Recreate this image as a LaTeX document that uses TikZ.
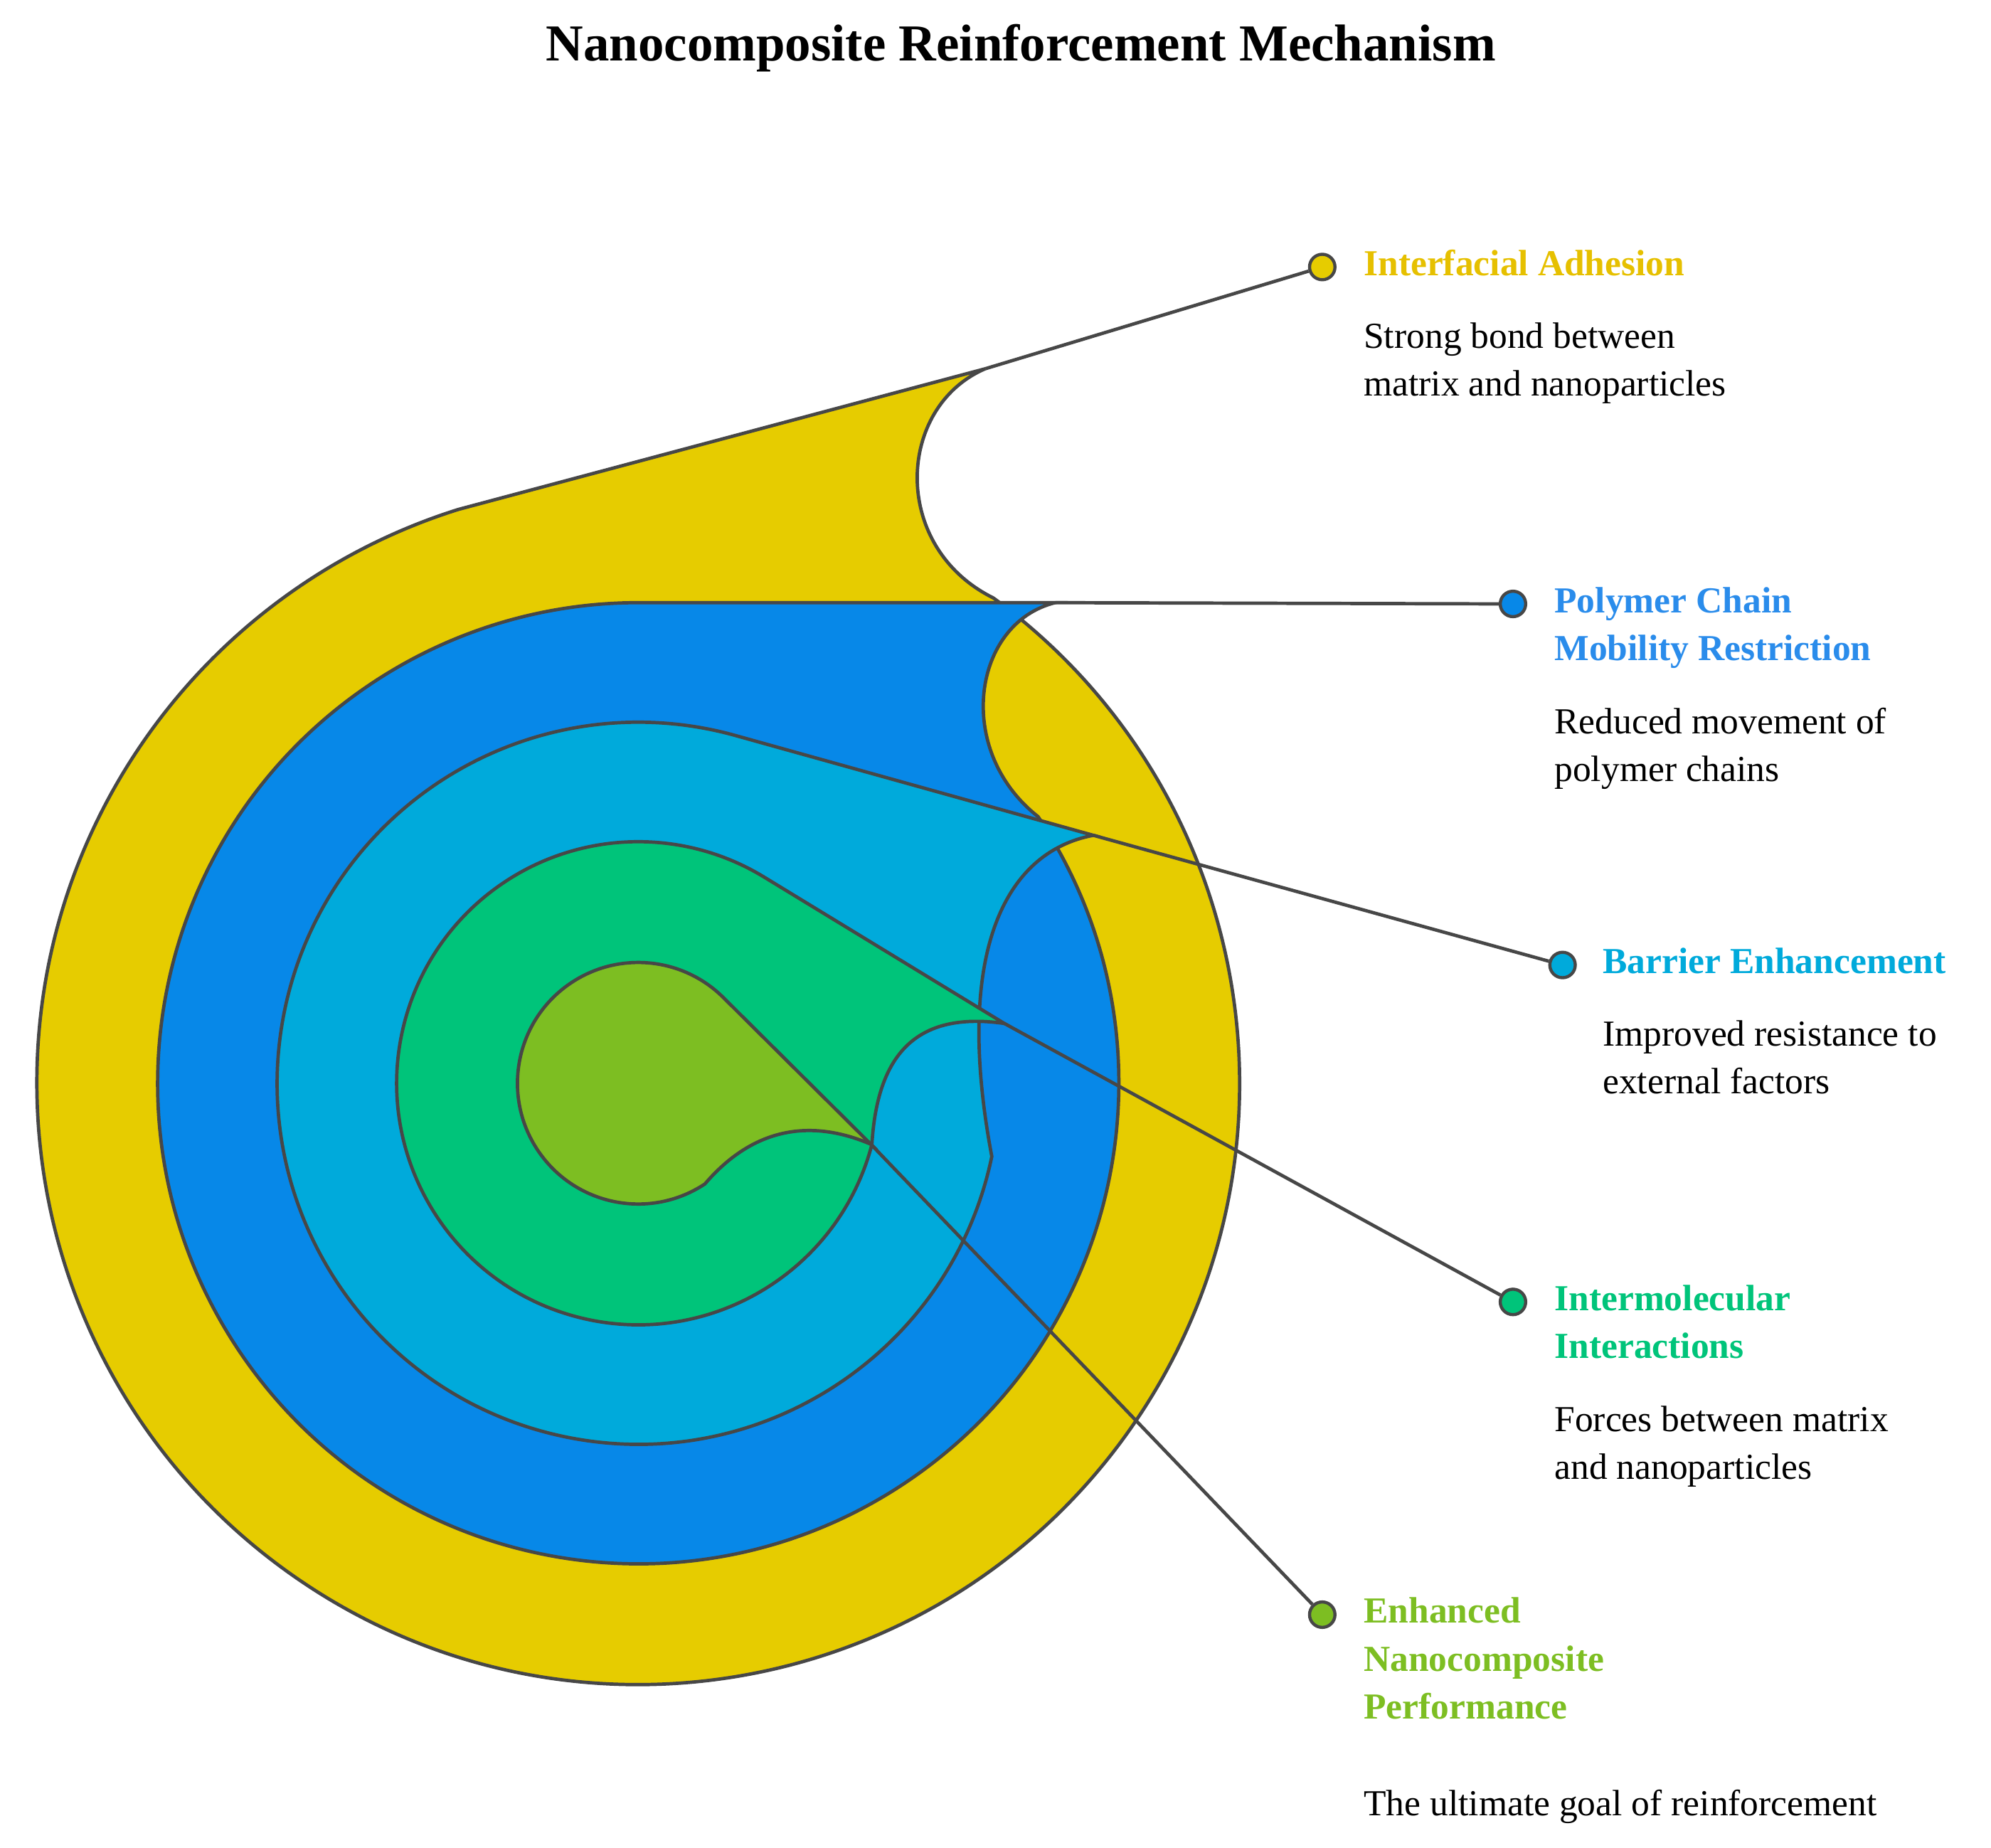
\documentclass[tikz,border=0pt]{standalone}
\usepackage{fontspec}
\setmainfont{Liberation Serif}
\begin{document}
\begin{tikzpicture}[x=0.01cm,y=-0.01cm,
  layer/.style={draw=black!72,line width=0.75pt},
  lead/.style={draw=black!72,line width=0.75pt},
  dot/.style={circle,draw=black!72,line width=0.7pt,minimum size=0.2cm,inner sep=0pt},
  ttl/.style={anchor=north west,inner sep=0pt,align=left,font=\bfseries\fontsize{8.2}{10.7}\selectfont},
  body/.style={anchor=north west,inner sep=0pt,align=left,font=\fontsize{8.2}{10.7}\selectfont}]
\definecolor{cy}{HTML}{E6CC00}
\definecolor{cb}{HTML}{0788E8}
\definecolor{cc}{HTML}{00AADB}
\definecolor{cg}{HTML}{00C47A}
\definecolor{cl}{HTML}{7DBE22}
\definecolor{ty}{HTML}{E6C000}
\definecolor{tb}{HTML}{2A8CEB}
\useasboundingbox (0,0) rectangle (1566,1453);
\node[font=\bfseries\fontsize{11.6}{14}\selectfont] (title) at (803,38) {Nanocomposite Reinforcement Mechanism};
% layers
\path[layer,fill=cy] ([shift={(502,852)}]-53.8:473) arc[start angle=-53.8,end angle=252.6,radius=473] -- (775,290) .. controls (705,320) and (700,430) .. cycle;
\path[layer,fill=cb] ([shift={(502,852)}]-33.7:378) arc[start angle=-33.7,end angle=270,radius=378] -- (830,474) .. controls (765,490) and (750,590) .. cycle;
\path[layer,fill=cc] ([shift={(502,852)}]11.7:284) arc[start angle=11.7,end angle=285.6,radius=284] -- (860,657) .. controls (790,670) and (750,750) .. cycle;
\path[layer,fill=cg] ([shift={(502,852)}]14.7:190) arc[start angle=14.7,end angle=301.3,radius=190] -- (790,805) .. controls (720,795) and (690,830) .. cycle;
\path[layer,fill=cl] ([shift={(502,852)}]56.5:95) arc[start angle=56.5,end angle=314.9,radius=95] -- (685,900) .. controls (650,885) and (600,878) .. cycle;
% tips
\coordinate (tY) at (775,290);
\coordinate (tB) at (830,474);
\coordinate (tC) at (860,657);
\coordinate (tG) at (790,805);
\coordinate (tL) at (685,900);
% dots
\node[dot,fill=cy] (dY) at (1040,210) {};
\node[dot,fill=cb] (dB) at (1190,475) {};
\node[dot,fill=cc] (dC) at (1229,759) {};
\node[dot,fill=cg] (dG) at (1190,1024) {};
\node[dot,fill=cl] (dL) at (1040,1270) {};
\draw[lead] (tY) -- (dY);
\draw[lead] (tB) -- (dB);
\draw[lead] (tC) -- (dC);
\draw[lead] (tG) -- (dG);
\draw[lead] (tL) -- (dL);
% labels
\node[ttl,text=ty] (lY) at (1072,196) {Interfacial Adhesion};
\node[body] (bY) at (1072,253) {Strong bond between\\matrix and nanoparticles};
\node[ttl,text=tb] (lB) at (1222,461) {Polymer Chain\\Mobility Restriction};
\node[body] (bB) at (1222,556) {Reduced movement of\\polymer chains};
\node[ttl,text=cc] (lC) at (1260,745) {Barrier Enhancement};
\node[body] (bC) at (1260,802) {Improved resistance to\\external factors};
\node[ttl,text=cg] (lG) at (1222,1010) {Intermolecular\\Interactions};
\node[body] (bG) at (1222,1105) {Forces between matrix\\and nanoparticles};
\node[ttl,text=cl] (lL) at (1072,1256) {Enhanced\\Nanocomposite\\Performance};
\node[body] (bL) at (1072,1407) {The ultimate goal of reinforcement};
\end{tikzpicture}
\end{document}
